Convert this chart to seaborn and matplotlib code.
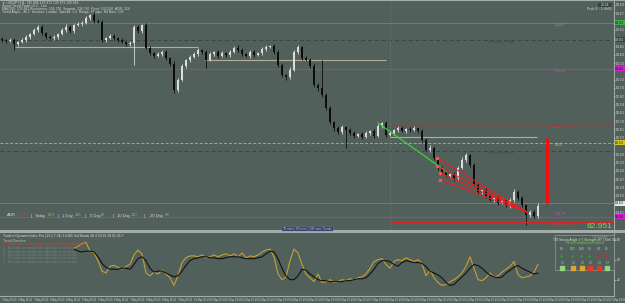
import numpy as np
import pandas as pd
import matplotlib
matplotlib.use("Agg")
import matplotlib.pyplot as plt
import matplotlib.transforms as mtransforms
from matplotlib.patches import Rectangle
import seaborn as sns

# H4 candles, closes (bar 0 = left edge)
closes = [136.55, 136.54, 136.55, 136.51, 136.53, 136.55, 136.58, 136.61, 136.65, 136.68,
          136.62, 136.58, 136.57, 136.58, 136.61, 136.65, 136.68, 136.64, 136.70, 136.71,
          136.72, 136.77, 136.80, 136.74, 136.73, 136.55, 136.57, 136.59, 136.57, 136.55,
          136.53, 136.51, 136.52, 136.68, 136.64, 136.70, 136.47, 136.42, 136.39, 136.41,
          136.43, 136.37, 136.31, 136.05, 136.15, 136.29, 136.35, 136.38, 136.41, 136.45,
          136.43, 136.35, 136.41, 136.43, 136.39, 136.42, 136.40, 136.43, 136.47, 136.45,
          136.41, 136.39, 136.43, 136.40, 136.42, 136.46, 136.48, 136.49, 136.43, 136.30,
          136.20, 136.18, 136.25, 136.43, 136.48, 136.37, 136.35, 136.29, 136.10, 136.07,
          136.00, 135.87, 135.73, 135.67, 135.63, 135.68, 135.65, 135.62, 135.59, 135.61,
          135.58, 135.62, 135.64, 135.59, 135.69, 135.72, 135.60, 135.62, 135.65, 135.67,
          135.64, 135.66, 135.65, 135.67, 135.64, 135.55, 135.45, 135.47, 135.37, 135.27,
          135.23, 135.19, 135.21, 135.17, 135.27, 135.35, 135.40, 135.30, 135.10, 135.03,
          135.05, 134.99, 134.95, 134.97, 134.92, 134.95, 134.90, 134.95, 135.03, 134.97,
          134.90, 134.80, 134.83, 134.79, 134.89]
first_open = 136.56
wick_up = [0.02, 0.01, 0.02, 0.02, 0.01, 0.02, 0.02, 0.01, 0.02, 0.02,
           0.02, 0.01, 0.02, 0.02, 0.01, 0.02, 0.03, 0.02, 0.01, 0.02,
           0.02, 0.02, 0.01, 0.03, 0.02, 0.02, 0.01, 0.02, 0.02, 0.01,
           0.02, 0.01, 0.02, 0.02, 0.02, 0.01, 0.02, 0.02, 0.01, 0.02,
           0.02, 0.02, 0.01, 0.03, 0.02, 0.02, 0.01, 0.02, 0.02, 0.02,
           0.01, 0.02, 0.02, 0.01, 0.02, 0.02, 0.01, 0.02, 0.02, 0.03,
           0.02, 0.01, 0.02, 0.02, 0.01, 0.02, 0.02, 0.01, 0.02, 0.02,
           0.02, 0.01, 0.03, 0.02, 0.02, 0.01, 0.02, 0.02, 0.03, 0.02,
           0.28, 0.02, 0.02, 0.01, 0.02, 0.02, 0.01, 0.02, 0.02, 0.01,
           0.02, 0.02, 0.01, 0.02, 0.02, 0.01, 0.02, 0.02, 0.01, 0.02,
           0.02, 0.01, 0.02, 0.02, 0.01, 0.02, 0.02, 0.03, 0.02, 0.01,
           0.02, 0.02, 0.01, 0.02, 0.02, 0.03, 0.02, 0.01, 0.02, 0.02,
           0.01, 0.02, 0.02, 0.01, 0.02, 0.02, 0.01, 0.02, 0.03, 0.02,
           0.02, 0.01, 0.02, 0.02, 0.03]
wick_dn = [0.02, 0.02, 0.01, 0.06, 0.02, 0.01, 0.02, 0.02, 0.01, 0.02,
           0.02, 0.02, 0.01, 0.02, 0.02, 0.01, 0.02, 0.02, 0.02, 0.01,
           0.02, 0.01, 0.02, 0.02, 0.01, 0.02, 0.02, 0.01, 0.02, 0.02,
           0.01, 0.02, 0.02, 0.22, 0.02, 0.02, 0.01, 0.02, 0.02, 0.01,
           0.02, 0.02, 0.02, 0.03, 0.02, 0.01, 0.02, 0.02, 0.01, 0.02,
           0.02, 0.08, 0.01, 0.02, 0.02, 0.01, 0.02, 0.02, 0.01, 0.02,
           0.02, 0.01, 0.02, 0.02, 0.01, 0.02, 0.02, 0.01, 0.02, 0.02,
           0.02, 0.03, 0.02, 0.01, 0.02, 0.02, 0.01, 0.02, 0.02, 0.03,
           0.02, 0.02, 0.02, 0.03, 0.02, 0.02, 0.18, 0.02, 0.02, 0.01,
           0.02, 0.01, 0.02, 0.02, 0.01, 0.02, 0.02, 0.01, 0.02, 0.02,
           0.01, 0.02, 0.02, 0.01, 0.02, 0.02, 0.01, 0.02, 0.02, 0.02,
           0.02, 0.01, 0.02, 0.03, 0.02, 0.01, 0.02, 0.02, 0.01, 0.02,
           0.02, 0.02, 0.01, 0.02, 0.02, 0.01, 0.02, 0.03, 0.02, 0.02,
           0.02, 0.10, 0.02, 0.02, 0.02]

# TDI oscillator, one value per bar starting at bar 18
tdi_first_bar = 18
tdi_fast = [60.3, 62.0, 64.6, 65.5, 57.7, 56.0, 49.1, 39.7, 38.0, 44.0,
            44.8, 43.1, 41.4, 44.0, 45.7, 54.3, 58.6, 55.2, 38.0, 35.4,
            38.8, 37.1, 40.5, 37.1, 33.7, 26.8, 35.4, 47.4, 51.7, 53.4,
            53.4, 52.6, 54.3, 51.7, 52.6, 54.3, 52.6, 54.3, 55.2, 53.4,
            55.2, 52.6, 56.0, 51.7, 53.4, 52.6, 54.3, 56.9, 58.6, 59.5,
            52.6, 37.1, 32.0, 34.5, 49.1, 59.5, 56.0, 45.7, 37.1, 33.7,
            30.2, 37.1, 29.4, 30.2, 32.0, 29.4, 30.2, 32.0, 31.1, 32.8,
            32.0, 33.7, 34.5, 37.1, 42.3, 48.3, 50.0, 50.9, 45.7, 42.3,
            48.3, 50.0, 49.1, 51.7, 50.0, 48.3, 50.0, 46.6, 35.4, 40.5,
            33.7, 29.4, 26.8, 27.7, 30.2, 32.0, 34.5, 38.0, 44.0, 52.6,
            42.3, 32.0, 31.1, 33.7, 38.0, 34.5, 35.4, 38.8, 41.4, 44.0,
            48.3, 36.6, 33.7, 34.5, 35.4, 38.8, 45.7]
tdi_slow = [59.5, 57.7, 56.9, 57.7, 57.7, 56.9, 52.6, 46.6, 43.1, 41.4,
            41.4, 41.4, 42.3, 42.3, 41.4, 45.7, 50.9, 52.6, 49.1, 42.3,
            38.8, 39.7, 39.7, 38.0, 36.2, 34.5, 35.4, 39.7, 44.8, 49.1,
            50.9, 51.7, 52.6, 52.6, 51.7, 51.7, 50.9, 50.9, 51.7, 52.6,
            52.6, 52.6, 51.7, 50.9, 50.9, 50.9, 51.7, 52.6, 55.2, 57.7,
            56.9, 50.9, 42.3, 35.4, 32.0, 32.0, 35.4, 41.4, 40.5, 37.1,
            34.5, 32.0, 31.1, 31.1, 30.2, 30.2, 30.2, 30.2, 31.1, 31.1,
            32.0, 32.8, 32.8, 33.7, 37.1, 41.4, 46.6, 49.1, 49.1, 48.3,
            45.7, 44.0, 47.4, 49.1, 48.3, 47.4, 47.4, 46.6, 44.0, 39.7,
            38.0, 36.2, 33.7, 29.4, 26.8, 27.7, 31.1, 34.5, 38.0, 42.3,
            45.7, 44.8, 42.3, 38.8, 36.2, 34.5, 33.7, 34.5, 38.0, 40.5,
            43.1, 44.8, 42.3, 40.5, 38.8, 37.1, 38.0]
tdi_levels = [32, 50, 68]

# price levels
res_level = 136.72
yday_high = 136.55
pivot_level = 136.26
mid_level = 135.52
yday_low = 135.44
box_top = 135.70
box_bottom = 134.73
sup_level = 134.78
bid_level = 134.92
# (first bar, last bar, price)
range_segments = [(3.25, 49.0, 136.48), (50.75, 96.0, 136.35), (97.0, 133.75, 135.58)]
session_bar = 97
trend_line = [(94.0, 135.72), (111.25, 135.23)]
fan_starts = [(108.75, 135.37), (108.75, 135.29), (109.5, 135.22), (109.5, 135.15)]
fan_end = (131.25, 134.83)
range_bar = 136.25
range_arrow = (134.92, 135.57)

info_names = ["ADR", "Today", "1 Day", "5 Day", "10 Day", "20 Day"]
info_vals = ["124 0%", "879", "116", "87", "110", "98"]
tf_names = ["M5", "M15", "M30", "H1", "H4", "D1"]
tf_dir = [1, 1, 1, 1, -1, -1]
tf_state = ["#93d67c", "#e0a531", "#e0a531", "#e23a2e", "#e23a2e", "#93d67c"]

bg = "#52605b"
bull = "#dcdcdc"
bear = "#0d0d0d"
light = "#d4d8d6"

sns.set_style("dark", {"axes.facecolor": bg, "figure.facecolor": bg})
plt.rcParams["font.family"] = ["Liberation Sans", "DejaVu Sans"]

fig = plt.figure(figsize=(6.25, 3.03), dpi=100)
W, H = 625, 303
ax = fig.add_axes([0, 73 / H, 614 / W, 230 / H])
osc = fig.add_axes([0, 7 / H, 614 / W, 63 / H], sharex=ax)

# ---- candles
df = pd.DataFrame({"close": closes})
df["open"] = [first_open] + closes[:-1]
df["bar"] = np.arange(len(df))
body_lo = df[["open", "close"]].min(axis=1)
body_hi = df[["open", "close"]].max(axis=1)
df["high"] = body_hi + np.array(wick_up)
df["low"] = body_lo - np.array(wick_dn)
cols = np.where(df["close"] >= df["open"], bull, bear)
ax.vlines(df["bar"], df["low"], df["high"], colors=cols, lw=0.6, zorder=3)
ax.bar(df["bar"], (df["close"] - df["open"]).abs().clip(lower=0.006), bottom=body_lo,
       width=0.5, color=cols, lw=0, zorder=4)

# ---- levels
ax.axhline(res_level, color="#3f9e48", lw=0.7)
ax.axhline(yday_high, color="#3b4743", lw=0.7, ls=(0, (4, 3)))
ax.axhline(pivot_level, color="#a93aa9", lw=0.8)
ax.axhline(mid_level, color="#b7ae3c", lw=0.7, ls=(0, (3, 2)))
ax.axhline(yday_low, color="#3b4743", lw=0.7, ls=(0, (4, 3)))
ax.axhline(bid_level, color="#7d8b86", lw=0.5)
ax.axhline(sup_level, color="#a93aa9", lw=0.8)
for x0, x1, y in range_segments:
    ax.hlines(y, x0, x1, color="#b3ae98", lw=0.8, zorder=2)
ax.hlines([box_top, box_bottom], session_bar, 153, color="#d42424", lw=0.9, zorder=5)
ax.axvline(session_bar, color="#6f7c77", lw=0.5, ls=(0, (2, 2)))
ax.plot(*zip(*trend_line), color="#35d43a", lw=0.9, zorder=6)
for sx, sy in fan_starts:
    ax.plot([sx, fan_end[0]], [sy, fan_end[1]], color="#f01c1c", lw=0.8, zorder=6)
    ax.plot(sx, sy, "s", ms=1.4, color="#ff5050", zorder=7)
ax.vlines(range_bar, box_bottom, box_top, color="#d42424", lw=0.5, zorder=5)
ax.vlines(range_bar, *range_arrow, color="#f01010", lw=2.2, zorder=6)

ax.text(138.25, res_level - 0.005, "1.4267", color="#46c24d", fontsize=2.6, va="top")
ax.text(121.25, yday_high - 0.005, "Yesterday's High", color="#3d4844", fontsize=2.6, va="top")
ax.text(138.25, pivot_level - 0.005, "136.26", color="#c44cc4", fontsize=2.6, va="top")
ax.text(138.25, mid_level - 0.005, "0.5%", color="#d6cb45", fontsize=2.6, va="top")
ax.text(121.25, yday_low - 0.005, "Yesterday's Low", color="#3d4844", fontsize=2.6, va="top")
ax.text(136.5, box_top - 0.005, "H-Range 135.70", color="#e03030", fontsize=2.6, va="top")
ax.text(136.5, box_bottom - 0.005, "L-Range 134.73", color="#e03030", fontsize=2.6, va="top")
ax.text(138.25, sup_level + 0.005, "134.78", color="#c44cc4", fontsize=2.6, va="bottom")
ax.text(152.5, box_bottom - 0.01, "82.951", color="#7fd957", fontsize=6, ha="right", va="top")

ax.set_xlim(-0.5, 153)
ax.set_ylim(134.65, 136.95)
ax.yaxis.tick_right()
tag_levels = [res_level, yday_high, pivot_level, mid_level, bid_level, sup_level]
yt = [v for v in np.arange(136.90, 134.66, -0.083)
      if min(abs(v - t) for t in tag_levels) > 0.04]
ax.set_yticks(yt)
ax.set_yticklabels([f"{v:.3f}" for v in yt])
ax.tick_params(axis="y", labelsize=1.8, colors=light, length=1, width=0.4, pad=0.4)
ax.tick_params(axis="x", bottom=False, labelbottom=False)
for s in ["top", "left", "bottom"]:
    ax.spines[s].set_visible(False)
ax.spines["right"].set_color("#b5bcb8")
ax.spines["right"].set_linewidth(0.6)
ax.grid(False)

ytrans = mtransforms.blended_transform_factory(ax.transAxes, ax.transData)
tags = [(res_level, "#3fae48", "136.720"), (yday_high, "#3b4743", "136.550"),
        (pivot_level, "#d020d0", "136.260"), (mid_level, "#d8c820", "135.520"),
        (bid_level, "#e8e8e8", "134.920"), (sup_level, "#d020d0", "134.780")]
for y, c, t in tags:
    ax.text(1.002, y, t, transform=ytrans, fontsize=1.8, va="center", ha="left",
            color="#111111" if c != "#3b4743" else light, clip_on=False,
            bbox=dict(boxstyle="square,pad=0.2", fc=c, ec="none"))

# ---- oscillator
tdi = pd.DataFrame({"bar": np.arange(tdi_first_bar, tdi_first_bar + len(tdi_fast)),
                    "fast": tdi_fast, "slow": tdi_slow})
sns.lineplot(data=tdi, x="bar", y="fast", ax=osc, color="#c4a035", lw=0.8)
sns.lineplot(data=tdi, x="bar", y="slow", ax=osc, color="#121212", lw=0.8)
osc.set_ylim(17.3, 74.0)
osc.set_xlabel("")
osc.set_ylabel("")
osc.yaxis.tick_right()
osc.set_yticks(tdi_levels)
osc.set_yticklabels([str(v) for v in tdi_levels])
osc.tick_params(axis="y", labelsize=2.4, colors=light, length=1.5, width=0.4, pad=0.8)
tick_bars = np.arange(0, 153, 4)
tick_dates = pd.date_range("2023-05-02 00:00", periods=len(tick_bars), freq="16h")
osc.set_xticks(tick_bars)
osc.set_xticklabels([d.strftime("%-d %b %H:%M") for d in tick_dates])
osc.tick_params(axis="x", labelsize=1.8, colors=light, length=0.8, width=0.4, pad=0.3)
for lab in osc.get_xticklabels():
    lab.set_horizontalalignment("left")
for s in ["top", "left"]:
    osc.spines[s].set_visible(False)
osc.spines["right"].set_color("#b5bcb8")
osc.spines["right"].set_linewidth(0.6)
osc.spines["bottom"].set_color("#a3aca8")
osc.spines["bottom"].set_linewidth(0.8)
osc.grid(False)

# ---- overlay in pixel units for panels / text
ov = fig.add_axes([0, 0, 1, 1], zorder=10)
ov.set_xlim(0, W)
ov.set_ylim(H, 0)
ov.axis("off")
ov.patch.set_alpha(0)
ov.fill_between([0, W], 230.3, 232.6, color="#a4ada9", lw=0)
ov.plot([0, W], [0.4, 0.4], color="#a4ada9", lw=0.8)

hdr = ["\u25bc USDJPY,H4  135.888 135.972 135.873 135.951",
       "Smart Trend Panel v3.2 - Live",
       "MA(200): 135.881 Resistance: 136.720  Support: 134.730  Pivot: 135.520  ADR: 124",
       "Trend Angle: -36.2  Session: London  Spread: 1.4  Range: 97 pips  H4 Bars: 135"]
for i, t in enumerate(hdr):
    ov.text(2, 3 + 3.1 * i, t, color=light, fontsize=2.4, va="center")
ov.add_patch(Rectangle((598, 3), 14, 4, fc="#3a4541", ec="none"))
ov.text(605, 5, "23:54", color=light, fontsize=2.4, ha="center", va="center")
ov.text(612, 9.5, "Prob S\u00b0: 1 Hh00", color=light, fontsize=2.4, ha="right", va="center")

name_x = [7, 35, 62, 90, 117, 150]
val_x = [16, 48, 75, 101, 131, 165]
for i, (n, v) in enumerate(zip(info_names, info_vals)):
    ov.text(name_x[i], 215.5, n, color=light, fontsize=3, va="center")
    ov.text(val_x[i], 215.5, v, color="#e03030" if i == 0 else "#5fd33f",
            fontsize=3, va="center")
for x in [31, 58, 85, 113, 144]:
    ov.text(x, 215.5, "|", color=light, fontsize=3, va="center")

ov.add_patch(Rectangle((282, 226.6), 51, 4.8, fc="#2c3467", ec="#7079a8", lw=0.3))
ov.text(307.5, 229, "30 mins | 60 mins | 240 mins Trends", color=light, fontsize=2.2,
        ha="center", va="center")

ov.text(3, 235.5, "Traders Dynamic Index Pro (13,2,7,34) 1.6185 Vol Bands 48.4 50.89 38.01 45.7",
        color=light, fontsize=2.4, va="center")
ov.text(3, 241, "Trend Direction", color="#b9c0bc", fontsize=2.4, va="center")
ov.text(3, 244.5, "1 - Trend was weak and has been (Sideways/Retrace)", color="#e23a2e",
        fontsize=2.4, va="center")
dim = ["2 - No trade as market are sideways or in retrace",
       "3 - No trade as market are sideways or in retrace",
       "4 - No trade as market are sideways or in retrace",
       "5 - No trade as market are sideways or in retrace",
       "6 - No trade as market are sideways or in retrace"]
for i, t in enumerate(dim):
    ov.text(3, 248 + 3.5 * i, t, color="#75837e", fontsize=2.4, va="center")

ov.add_patch(Rectangle((555, 235), 59, 35, fc="none", ec="#84908b", lw=0.6))
ov.text(600, 237, "TDI Signals", color="#8f9a96", fontsize=2.2, ha="center", va="center")
ov.text(584.5, 240.5, "TDI Strong Angle 1\u00b0 | Strength 36\u00b0 | Stall 30\u00b0",
        color=light, fontsize=2.3, ha="center", va="center")
ov.text(584.5, 243.5, "Trend Established/Pullback", color="#5fd33f", fontsize=2.3,
        ha="center", va="center")
col_x = [562, 573, 581.5, 590, 598.5, 607]
for i, x in enumerate(col_x):
    ov.text(x, 248.5, tf_names[i], color="#b9c0bc", fontsize=2.2, ha="center", va="center")
    ov.text(x, 256.5, "\u25b2" if tf_dir[i] > 0 else "\u25bc",
            color="#2fa02f" if tf_dir[i] > 0 else "#e02020", fontsize=3.2,
            ha="center", va="center", family="DejaVu Sans")
    ov.plot(x, 261.5, "o", ms=1.8, mfc="none", mec="#8a9590", mew=0.4)
    ov.plot(x, 267.5, "s", ms=2.2, color=tf_state[i])

fig.savefig("out.png", dpi=100, facecolor=bg)
